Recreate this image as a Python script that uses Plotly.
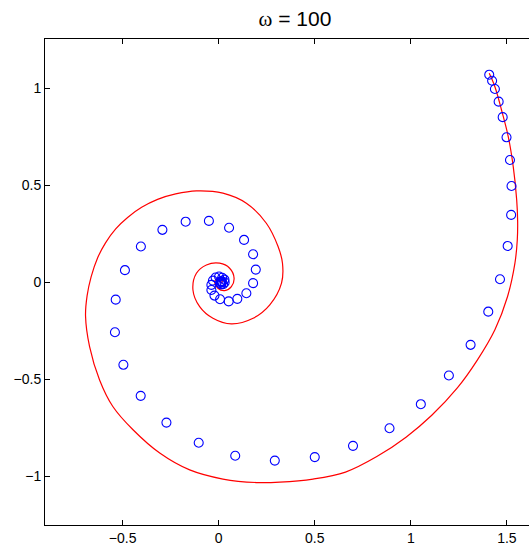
import plotly.graph_objects as go

# Red spiral curve
curve_x = [1.408, 1.4375, 1.472, 1.507, 1.533, 1.551, 1.556, 1.554, 1.542, 1.503,
           1.4375, 1.346, 1.242, 1.109, 0.975, 0.823, 0.660, 0.491, 0.318, 0.196, 0.022,
           -0.151, -0.307, -0.446, -0.551, -0.620, -0.672, -0.693, -0.685, -0.664, -0.630,
           -0.589, -0.536, -0.474, -0.401, -0.318, -0.224, -0.116, 0.022, 0.144, 0.248,
           0.309, 0.332, 0.327, 0.266, 0.179, 0.066, -0.030, -0.099, -0.134, -0.116,
           -0.064, 0.005, 0.057, 0.080, 0.066, 0.031, -0.004, -0.021, -0.004, 0.019,
           0.014, 0.010]
curve_y = [1.077, 1.008, 0.888, 0.751, 0.596, 0.424, 0.311, 0.218, 0.100, -0.075,
           -0.245, -0.4015, -0.545, -0.686, -0.799, -0.899, -0.979, -1.015, -1.031, -1.033, -1.015,
           -0.968, -0.881, -0.761, -0.641, -0.504, -0.332, -0.174, -0.071, 0.027, 0.126,
           0.203, 0.275, 0.334, 0.386, 0.427, 0.455, 0.471, 0.459, 0.407, 0.304,
           0.184, 0.098, -0.005, -0.117, -0.186, -0.215, -0.186, -0.126, -0.040, 0.046,
           0.089, 0.098, 0.072, 0.021, -0.023, -0.043, -0.031, 0.003, 0.021, 0.012,
           -0.004, 0.002]

# Blue sample points
pts_x = [1.408, 1.423, 1.4375, 1.457, 1.478, 1.498, 1.516, 1.524, 1.522, 1.504,
         1.464, 1.403, 1.311, 1.198, 1.052, 0.889, 0.699, 0.500, 0.292, 0.086,
         -0.104, -0.272, -0.406, -0.496, -0.540, -0.536, -0.488, -0.405, -0.293, -0.172,
         -0.051, 0.054, 0.132, 0.179, 0.193, 0.179, 0.144, 0.097, 0.052, 0.007,
         -0.022, -0.038, -0.038, -0.030, -0.016, 0.002, 0.018, 0.030, 0.031, 0.023,
         0.013, 0.008, 0.010, 0.016, 0.016, 0.013]
pts_y = [1.070, 1.039, 0.996, 0.931, 0.851, 0.747, 0.630, 0.496, 0.347, 0.187,
         0.015, -0.152, -0.323, -0.481, -0.629, -0.753, -0.844, -0.902, -0.920, -0.895,
         -0.828, -0.724, -0.586, -0.426, -0.258, -0.090, 0.062, 0.184, 0.270, 0.312,
         0.316, 0.281, 0.218, 0.144, 0.065, -0.005, -0.057, -0.086, -0.099, -0.088,
         -0.069, -0.040, -0.014, 0.008, 0.024, 0.029, 0.023, 0.013, -0.001, -0.010,
         -0.011, -0.004, 0.004, 0.004, 0.000, 0.001]

x_ticks = [-0.5, 0, 0.5, 1, 1.5]
x_labels = ["\u22120.5", "0", "0.5", "1", "1.5"]
y_ticks = [-1, -0.5, 0, 0.5, 1]
y_labels = ["\u22121", "\u22120.5", "0", "0.5", "1"]
title_text = '<span style="font-family:Liberation Serif">ω</span> = 100'

fig = go.Figure()
fig.add_trace(go.Scatter(x=curve_x, y=curve_y, mode="lines",
                         line=dict(color="#FF0000", width=1.2, shape="spline", smoothing=1.0),
                         showlegend=False, hoverinfo="skip"))
fig.add_trace(go.Scatter(x=pts_x, y=pts_y, mode="markers",
                         marker=dict(symbol="circle-open", size=9, color="#0000FF",
                                     line=dict(width=1.1, color="#0000FF")),
                         showlegend=False))

axis_common = dict(showgrid=False, zeroline=False, showline=True, linecolor="black",
                   linewidth=1, ticks="inside", ticklen=5, tickcolor="black",
                   tickfont=dict(family="Liberation Sans, Arial", size=14, color="black"))

fig.update_layout(
    width=529, height=551,
    margin=dict(l=45, r=0, t=39, b=26),
    paper_bgcolor="white", plot_bgcolor="white",
    title=dict(text=title_text, x=295/529, xref="container",
               xanchor="center", y=1 - 19/551, yanchor="middle",
               font=dict(family="Liberation Sans, Arial", size=21, color="black")),
    xaxis=dict(range=[-0.904, 1.615], tickvals=x_ticks, ticktext=x_labels,
               mirror="ticks", **axis_common),
    yaxis=dict(range=[-1.252, 1.254], tickvals=y_ticks, ticktext=y_labels,
               mirror=False, **axis_common),
)

fig.write_html("out.html")
